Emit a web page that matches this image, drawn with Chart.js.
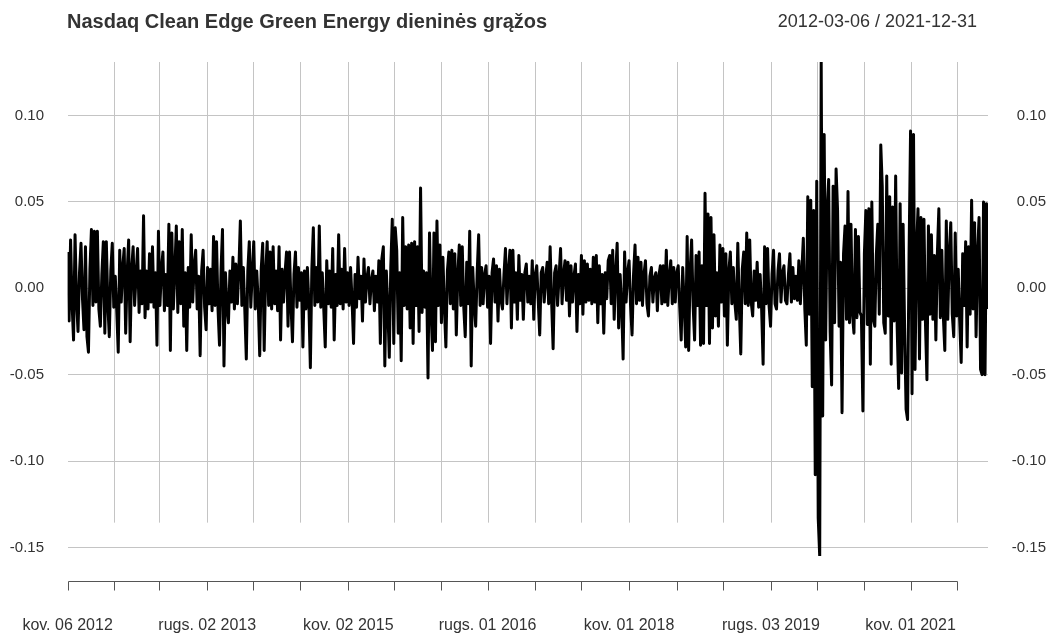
<!DOCTYPE html>
<html>
<head>
<meta charset="utf-8">
<script src="https://cdn.jsdelivr.net/npm/chart.js@4.4.1/dist/chart.umd.min.js"></script>
<style>
  html, body { margin: 0; padding: 0; background: #ffffff; }
  canvas { display: block; }
</style>
</head>
<body>
<canvas id="returnsChart" width="1055" height="635"></canvas>
<script>
// Heading texts
const chartTitle = "Nasdaq Clean Edge Green Energy dieninės grąžos";
const dateRange = "2012-03-06 / 2021-12-31";

// Daily returns in percent, one value every 4 trading days
const obsPerSample = 4;
const dailyReturnPct = [
  2.1,-1.9,2.8,-0.9,-3.0,3.1,-0.7,-2.5,0.9,2.6,
  -0.6,-2.4,2.4,-2.8,-3.7,1.1,3.4,-1.0,3.3,-0.8,
  3.3,-1.2,-2.2,0.8,2.7,-2.6,2.7,-0.9,-2.8,1.0,
  2.6,-1.1,0.7,-1.3,-3.7,2.2,-0.8,1.2,2.3,-2.6,
  0.9,2.8,-3.1,1.1,2.4,-1.0,0.8,2.3,-1.4,1.0,
  -0.9,4.2,-1.7,1.0,-1.2,2.0,-0.8,2.4,-1.1,0.9,
  -3.3,3.3,-1.0,1.1,2.1,-1.3,0.8,-1.0,3.7,-3.6,
  3.2,-1.2,1.0,3.6,-1.4,2.7,-0.9,3.4,-2.2,0.9,
  -3.6,1.2,-1.1,3.1,-0.8,1.3,2.2,-1.2,0.7,-3.9,
  1.0,2.2,-1.1,-2.4,1.2,-0.9,1.1,-1.3,3.0,-1.0,
  2.7,-1.2,-3.3,1.0,3.4,-4.5,0.9,-1.1,-2.0,1.0,
  -0.8,1.8,-1.2,1.4,-0.9,1.1,3.9,-1.0,1.2,-1.3,
  -4.1,1.0,2.7,-1.1,0.9,2.7,-1.2,1.0,-0.8,-3.9,
  1.1,2.6,-3.6,0.9,2.7,-1.0,2.1,-1.2,2.4,-0.9,
  1.0,-1.3,2.4,-3.0,1.1,-0.8,0.9,2.1,-2.2,2.1,
  -1.0,-3.1,0.8,2.1,-1.1,1.2,-0.7,0.9,-3.4,1.0,
  -1.2,1.2,-0.9,-4.6,1.1,3.5,-1.0,1.2,-0.8,3.6,
  -1.1,0.9,-1.2,-3.4,1.6,-0.9,1.0,-1.1,2.3,-3.0,
  0.8,-1.0,3.1,-0.9,1.1,-1.2,2.3,-0.8,0.9,-1.0,
  1.2,-0.7,-3.2,0.8,-1.1,1.8,-0.6,0.7,-1.9,1.7,
  -0.8,0.6,1.2,-0.9,0.5,1.0,-1.3,0.7,-0.8,1.6,
  -3.2,1.7,2.4,-4.5,1.0,-1.1,-4.0,1.2,4.0,-3.2,
  3.5,2.2,-2.6,0.9,-4.2,4.1,-1.0,2.4,-1.2,2.5,
  -2.3,2.6,-3.2,2.7,-1.0,2.4,-2.5,5.8,-1.4,1.0,
  -1.1,0.9,-5.2,3.2,-1.2,-3.6,3.2,-3.1,3.9,-1.0,
  2.5,-2.0,1.8,-1.1,-3.4,1.0,2.1,-0.9,2.2,-1.2,
  2.0,-2.7,0.8,2.5,-1.0,2.4,-1.1,-2.8,1.5,-0.9,
  3.3,-4.5,1.2,-0.8,-2.2,0.9,3.1,-1.0,1.2,-0.9,
  0.8,1.3,-1.1,0.7,-3.2,0.9,1.7,-0.8,1.3,-1.9,
  1.1,-0.7,-1.2,0.8,2.3,-0.9,1.0,2.2,-2.3,2.2,
  -0.8,0.9,-1.8,1.9,-0.7,0.8,-1.8,0.9,1.4,-0.8,
  0.7,-0.9,1.6,-1.8,0.8,1.3,-0.7,-2.7,0.9,1.2,
  -0.8,0.6,1.5,-0.9,2.4,-0.8,-3.5,0.9,1.3,-1.0,
  0.7,2.3,-0.9,0.8,1.6,-0.7,1.5,-1.6,1.3,-0.8,
  0.7,1.4,-2.5,0.8,-0.9,1.9,-1.5,1.6,-0.8,1.4,
  -0.7,1.1,-0.9,1.8,-0.8,1.9,-2.0,1.3,-0.9,0.8,
  -2.6,0.9,-0.6,1.6,1.9,-0.9,2.2,-1.8,0.9,2.6,
  -2.3,0.8,-1.0,-4.1,2.1,-0.8,0.9,1.6,-1.0,-2.7,
  0.8,2.5,-0.9,1.8,-0.7,1.5,-1.0,0.8,1.6,-0.9,
  -1.6,0.7,1.2,-0.8,0.6,0.9,-1.3,0.7,1.3,-0.9,
  1.3,-0.8,2.2,-1.0,0.7,1.6,-0.9,1.2,-0.8,0.9,
  1.3,-1.1,-3.0,1.2,-0.9,-3.4,3.0,-3.6,1.0,2.8,
  -1.0,-3.0,1.9,-1.0,2.1,-3.3,1.3,-3.2,5.5,-1.0,
  4.3,-3.2,4.1,-2.3,3.1,-1.6,0.9,-2.2,2.5,-0.8,
  2.3,-1.6,2.0,-3.3,1.0,2.1,-0.9,1.2,-0.8,-1.8,
  2.6,-1.0,-3.8,1.1,2.1,-0.9,3.2,-1.0,2.8,-0.8,
  -1.6,1.0,-0.7,1.5,-1.1,0.8,-1.2,-4.4,2.4,-0.9,
  2.3,-1.0,-2.2,0.8,2.2,-0.9,-1.2,1.0,2.0,-0.8,
  0.9,1.3,-0.7,-0.9,0.8,2.0,-0.8,1.2,-0.6,0.7,
  -0.7,1.6,-0.9,1.0,2.9,-1.2,-3.3,5.3,-1.5,5.1,
  -5.7,4.5,-10.8,6.2,-13.3,-15.5,13.1,-7.4,8.9,-3.0,
  4.5,6.3,-2.5,-5.6,5.9,-2.0,6.9,4.5,-2.2,1.5,
  -7.2,2.0,3.6,-1.8,5.6,-2.0,3.7,-1.5,-2.6,3.4,
  -1.7,3.0,-1.4,-1.6,-7.1,2.0,4.5,-2.1,4.6,-4.4,
  5.0,-1.8,-2.2,1.9,3.7,-1.5,8.3,5.9,-2.0,-2.6,
  6.5,-1.6,5.3,-4.4,4.7,-1.9,6.5,-2.2,-5.8,4.9,
  -4.9,3.7,-2.3,-7.0,-7.6,2.0,9.1,-6.1,8.9,-4.7,
  2.2,4.6,-4.1,4.1,-1.8,4.0,-2.0,-5.3,3.6,-1.5,
  3.1,-1.8,1.9,-3.0,2.0,4.6,-1.7,2.2,-1.6,-3.6,
  3.9,-1.8,2.0,3.8,-1.5,-2.8,3.2,-1.6,1.1,-1.9,
  -4.3,2.0,-1.0,2.7,-3.4,2.4,-1.5,5.1,-1.2,3.8,
  -2.8,2.0,4.1,-4.7,-5.0,5.0,-5.0,4.9,-1.2
];

// Time axis: trading-day number of each half-year tick and its caption
const xTickObs = [0,125,245,375,499,625,754,877,1004,1128,1256,1380,1508,1637,1760,1889,2012,2139,2264,2388];
const xTickLabels = [
  "kov. 06 2012","","","rugs. 02 2013","","","kov. 02 2015","","",
  "rugs. 01 2016","","","kov. 01 2018","","","rugs. 03 2019","","",
  "kov. 01 2021",""
];

// Value axis ticks
const yTickValues = [0.10, 0.05, 0.00, -0.05, -0.10, -0.15];

const FONT = '"Liberation Sans", Arial, Helvetica, sans-serif';
const TEXT_COLOR = '#333333';
const GRID_COLOR = '#c4c4c4';

const points = dailyReturnPct.map((v, i) => ({ x: i * obsPerSample, y: v / 100 }));
const yMin = Math.min(...dailyReturnPct) / 100;
const yMax = Math.max(...dailyReturnPct) / 100;
const lastObs = (dailyReturnPct.length - 1) * obsPerSample;

// Heading, half-year grid and the detached time axis
const frame = {
  id: 'frame',
  beforeDatasetsDraw(chart) {
    const { ctx, chartArea: a, scales: { x } } = chart;
    const gridBottom = a.top + (a.bottom - a.top) * 0.9325;
    ctx.save();
    ctx.strokeStyle = GRID_COLOR;
    ctx.lineWidth = 1;
    xTickObs.forEach((o, i) => {
      if (i === 0) return;
      const px = Math.round(x.getPixelForValue(o)) + 0.5;
      ctx.beginPath();
      ctx.moveTo(px, a.top);
      ctx.lineTo(px, gridBottom);
      ctx.stroke();
    });
    ctx.restore();
  },
  afterDraw(chart) {
    const { ctx, chartArea: a, scales: { x } } = chart;
    ctx.save();

    // heading
    ctx.fillStyle = TEXT_COLOR;
    ctx.textBaseline = 'alphabetic';
    ctx.textAlign = 'left';
    ctx.font = 'bold 20px ' + FONT;
    ctx.fillText(chartTitle, 67, 28);
    ctx.textAlign = 'right';
    ctx.font = '18px ' + FONT;
    ctx.fillText(dateRange, 977, 27);

    // time axis below the plot
    const axisY = Math.round(a.bottom + 25) + 0.5;
    const first = Math.round(x.getPixelForValue(xTickObs[0])) + 0.5;
    const last = Math.round(x.getPixelForValue(xTickObs[xTickObs.length - 1])) + 0.5;
    ctx.strokeStyle = '#555555';
    ctx.lineWidth = 1;
    ctx.beginPath();
    ctx.moveTo(first, axisY);
    ctx.lineTo(last, axisY);
    xTickObs.forEach(o => {
      const px = Math.round(x.getPixelForValue(o)) + 0.5;
      ctx.moveTo(px, axisY);
      ctx.lineTo(px, axisY + 9);
    });
    ctx.stroke();

    ctx.font = '16px ' + FONT;
    ctx.textAlign = 'center';
    ctx.textBaseline = 'middle';
    xTickObs.forEach((o, i) => {
      if (!xTickLabels[i]) return;
      ctx.fillText(xTickLabels[i], x.getPixelForValue(o), axisY + 44);
    });
    ctx.restore();
  }
};

const valueTicks = {
  min: yMin,
  max: yMax,
  afterBuildTicks(scale) {
    scale.ticks = yTickValues.map(v => ({ value: v }));
  }
};

new Chart(document.getElementById('returnsChart'), {
  type: 'line',
  data: {
    datasets: [{
      data: points,
      borderColor: '#000000',
      borderWidth: 3,
      borderJoinStyle: 'round',
      borderCapStyle: 'butt',
      pointRadius: 0,
      pointHoverRadius: 0,
      fill: false,
      tension: 0
    }]
  },
  options: {
    responsive: false,
    animation: false,
    events: [],
    layout: { padding: { left: 0, right: 9, top: 62, bottom: 79 } },
    plugins: { legend: { display: false }, tooltip: { enabled: false } },
    scales: {
      x: { type: 'linear', display: false, min: 0, max: lastObs },
      y: {
        type: 'linear',
        position: 'left',
        ...valueTicks,
        afterFit(scale) { scale.width = 67.6; },
        grid: { color: GRID_COLOR, lineWidth: 1, drawTicks: false },
        border: { display: false },
        ticks: {
          padding: 23.6,
          color: TEXT_COLOR,
          font: { family: FONT, size: 15 },
          callback: v => v.toFixed(2)
        }
      },
      y2: {
        type: 'linear',
        position: 'right',
        ...valueTicks,
        afterFit(scale) { scale.width = 58; },
        grid: { display: false, drawTicks: false },
        border: { display: false },
        ticks: {
          crossAlign: 'far',
          color: TEXT_COLOR,
          font: { family: FONT, size: 15 },
          callback: v => v.toFixed(2)
        }
      }
    }
  },
  plugins: [frame]
});
</script>
</body>
</html>
